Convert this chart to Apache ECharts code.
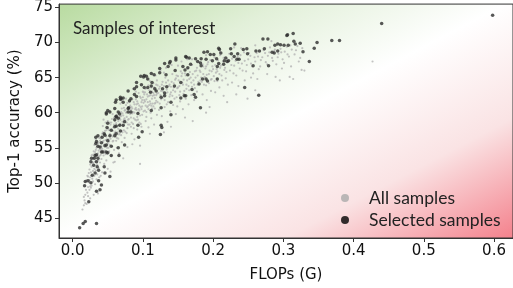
<!DOCTYPE html>
<html>
<head>
<meta charset="utf-8">
<script src="https://cdn.jsdelivr.net/npm/echarts@6/dist/echarts.min.js"></script>
<style>
html,body{margin:0;padding:0;background:#fff;}
#main{width:513px;height:288px;}
</style>
</head>
<body>
<div id="main"></div>
<script>
// ticks
var xTicks = [0, 0.1, 0.2, 0.3, 0.4, 0.5, 0.6];
var yTicks = [45, 50, 55, 60, 65, 70, 75];

// all samples (grey cloud), [FLOPs G, top-1 %]
var allSamples = [
[0.014,46.2],[0.016,46.8],[0.017,47.5],[0.018,48.3],[0.02,47.0],[0.019,49.0],[0.021,48.6],[0.022,49.4],[0.02,50.4],
[0.023,50.1],[0.024,49.0],[0.025,50.8],[0.026,51.5],[0.024,51.9],[0.027,52.3],[0.028,50.6],[0.029,52.9],[0.026,53.3],[0.028,54.0],[0.03,53.6],[0.029,51.7],[0.027,49.6],[0.03,48.3],[0.025,47.8],
[0.031,52.0],[0.032,54.4],[0.033,53.1],[0.034,55.0],[0.035,52.6],[0.036,54.2],[0.037,55.7],[0.038,53.8],[0.031,55.4],[0.033,56.2],[0.035,51.2],[0.039,54.8],[0.034,50.5],[0.037,52.1],[0.04,56.3],[0.032,49.8],[0.036,48.5],[0.038,50.8],
[0.041,55.2],[0.042,57.0],[0.043,54.6],[0.044,56.0],[0.045,55.5],[0.046,57.4],[0.047,54.1],[0.048,56.6],[0.049,55.0],[0.041,53.4],[0.043,58.1],[0.045,52.7],[0.047,58.6],[0.05,57.8],[0.042,51.5],[0.048,53.2],[0.044,59.0],
[0.051,56.2],[0.052,57.5],[0.053,55.4],[0.054,58.3],[0.055,56.8],[0.056,59.1],[0.057,55.9],[0.058,57.9],[0.059,56.9],[0.06,58.8],[0.052,54.5],[0.055,53.8],[0.057,59.8],[0.059,54.7],[0.053,60.2],[0.058,52.9],[0.054,51.6],
[0.061,57.3],[0.062,58.5],[0.063,56.4],[0.064,59.3],[0.065,57.7],[0.066,60.0],[0.067,58.2],[0.068,59.0],[0.069,56.8],[0.07,60.6],[0.071,58.7],[0.072,59.6],[0.073,57.5],[0.074,60.3],[0.075,58.9],[0.076,61.1],[0.077,59.4],[0.078,57.8],[0.079,60.8],[0.08,59.1],[0.063,55.0],[0.066,54.2],[0.07,55.8],[0.074,56.4],[0.068,61.3],[0.076,62.0],[0.072,53.5],[0.078,55.1],
[0.081,61.5],[0.082,59.8],[0.083,60.4],[0.084,58.6],[0.085,61.9],[0.086,60.1],[0.087,59.2],[0.088,61.2],[0.089,62.4],[0.09,60.7],[0.091,58.9],[0.092,61.6],[0.093,60.0],[0.094,62.8],[0.095,61.0],[0.096,59.6],[0.097,62.1],[0.098,60.5],[0.099,61.8],[0.1,63.0],[0.084,57.0],[0.088,56.2],[0.092,57.6],[0.096,55.3],[0.086,63.4],[0.098,58.0],[0.096,52.7],
[0.101,61.4],[0.102,62.6],[0.103,60.3],[0.104,63.4],[0.105,61.9],[0.106,60.8],[0.107,62.3],[0.108,63.9],[0.109,61.1],[0.11,62.9],[0.111,60.0],[0.112,63.6],[0.113,62.0],[0.114,61.3],[0.115,64.2],[0.116,62.5],[0.117,60.6],[0.118,63.2],[0.119,61.7],[0.12,64.6],[0.104,58.8],[0.108,57.9],[0.112,59.2],[0.116,58.3],[0.12,59.7],[0.106,64.8],[0.118,65.3],
[0.122,62.8],[0.124,63.7],[0.126,61.9],[0.128,64.4],[0.13,62.4],[0.132,65.0],[0.134,63.3],[0.136,61.5],[0.138,64.0],[0.14,62.9],[0.142,65.5],[0.144,63.6],[0.146,64.7],[0.148,62.2],[0.15,65.2],[0.123,60.4],[0.127,59.5],[0.131,60.8],[0.135,58.7],[0.139,60.2],[0.143,61.1],[0.147,59.8],[0.125,66.0],[0.133,66.4],[0.141,66.8],[0.149,60.9],[0.13,57.2],
[0.152,63.8],[0.154,65.9],[0.156,64.3],[0.158,62.7],[0.16,65.6],[0.162,64.0],[0.164,66.3],[0.166,63.2],[0.168,65.0],[0.17,66.8],[0.172,64.6],[0.174,63.5],[0.176,66.0],[0.178,65.3],[0.18,67.2],[0.153,61.6],[0.157,60.5],[0.161,62.0],[0.165,61.2],[0.169,62.5],[0.173,61.8],[0.177,63.0],[0.155,67.3],[0.163,67.6],[0.171,58.8],
[0.182,65.8],[0.184,64.4],[0.186,66.6],[0.188,65.1],[0.19,63.9],[0.192,66.9],[0.194,65.5],[0.196,67.5],[0.198,64.8],[0.2,66.2],[0.202,67.9],[0.204,65.7],[0.206,64.5],[0.208,66.9],[0.21,68.2],[0.212,65.3],[0.214,67.3],[0.216,66.1],[0.218,64.9],[0.22,67.7],[0.185,62.6],[0.191,61.8],[0.197,63.1],[0.203,62.9],[0.209,63.6],[0.215,62.4],[0.221,64.0],[0.195,60.8],
[0.223,68.4],[0.226,66.8],[0.229,65.6],[0.232,67.4],[0.235,68.0],[0.238,66.3],[0.241,67.0],[0.244,68.6],[0.247,65.9],[0.25,67.6],[0.253,68.1],[0.256,66.6],[0.259,67.9],[0.262,68.5],[0.265,66.2],[0.268,67.5],[0.227,64.3],[0.236,63.8],[0.245,64.6],[0.254,65.0],[0.263,64.8],[0.233,62.6],[0.249,62.0],[0.24,69.2],
[0.272,68.9],[0.275,67.2],[0.278,68.1],[0.281,69.3],[0.284,67.8],[0.287,68.8],[0.29,66.9],[0.293,68.4],[0.296,69.1],[0.299,67.6],[0.302,68.7],[0.305,69.4],[0.308,68.0],[0.312,69.0],[0.316,68.3],[0.32,69.5],[0.277,65.5],[0.289,65.1],[0.298,66.3],[0.311,66.6],[0.324,67.8],[0.33,66.0],[0.283,70.2],[0.314,64.8],
[0.427,67.3],[0.309,65.1],[0.326,66.1],
[0.016,48.0],[0.018,47.1],[0.019,50.2],[0.021,51.0],[0.022,48.1],[0.023,51.4],[0.024,50.4],[0.025,52.6],[0.026,49.3],[0.027,51.0],[0.028,52.8],[0.029,50.2],[0.03,54.5],[0.031,51.0],[0.032,53.0],[0.033,51.8],[0.034,53.7],[0.035,55.6],[0.036,53.2],[0.037,54.6],[0.038,56.4],[0.039,52.9],[0.04,54.0],
[0.041,56.6],[0.042,54.9],[0.043,55.8],[0.044,53.9],[0.045,56.9],[0.046,54.6],[0.047,56.1],[0.048,57.5],[0.049,54.1],[0.05,55.6],[0.051,57.7],[0.052,55.9],[0.053,57.0],[0.054,56.3],[0.055,58.6],[0.056,55.2],[0.057,57.4],[0.058,56.0],[0.059,58.3],[0.06,57.1],
[0.061,59.5],[0.062,56.0],[0.063,58.0],[0.064,57.2],[0.065,58.8],[0.066,56.9],[0.067,59.4],[0.068,58.4],[0.069,60.1],[0.07,57.4],[0.071,59.9],[0.072,58.1],[0.073,60.7],[0.074,59.2],[0.075,57.3],[0.076,60.0],[0.077,58.6],[0.078,61.4],[0.079,59.0],[0.08,60.4],
[0.081,58.3],[0.082,61.0],[0.083,59.3],[0.084,60.8],[0.085,59.9],[0.086,58.4],[0.087,61.5],[0.088,60.0],[0.089,59.0],[0.09,61.9],[0.091,60.4],[0.092,59.4],[0.093,61.3],[0.094,60.5],[0.095,58.6],[0.096,62.3],[0.097,60.8],[0.098,61.5],[0.099,59.7],[0.1,62.2],
[0.101,60.2],[0.102,61.8],[0.103,62.9],[0.104,61.0],[0.105,60.1],[0.106,62.6],[0.107,61.5],[0.108,60.5],[0.109,63.2],[0.11,61.6],[0.111,62.5],[0.112,61.0],[0.113,63.0],[0.114,62.4],[0.115,60.9],[0.116,63.6],[0.117,62.1],[0.118,61.4],[0.119,64.0],[0.12,62.7],
[0.121,61.5],[0.123,63.4],[0.125,62.5],[0.127,64.0],[0.129,63.0],[0.131,61.8],[0.133,64.3],[0.135,62.9],[0.137,63.8],[0.139,62.6],[0.141,64.4],[0.143,63.2],[0.145,62.0],[0.147,64.9],[0.149,63.5],[0.151,64.6],[0.153,63.0],[0.155,65.2],[0.157,64.0],[0.159,63.1],
[0.161,65.3],[0.163,64.6],[0.165,63.8],[0.167,65.8],[0.169,64.3],[0.171,65.5],[0.173,64.0],[0.175,65.0],[0.177,66.4],[0.179,64.4],[0.181,66.0],[0.183,65.0],[0.185,66.9],[0.187,64.0],[0.189,66.3],[0.191,65.4],[0.193,67.2],[0.195,66.0],[0.197,64.7],[0.199,66.6],
[0.201,65.2],[0.203,66.8],[0.205,66.2],[0.207,67.5],[0.209,65.5],[0.211,66.7],[0.213,64.6],[0.215,67.8],[0.217,66.4],[0.219,65.8],[0.221,67.2],[0.224,66.0],[0.227,67.7],[0.23,66.7],[0.233,65.3],[0.236,67.1],[0.239,68.2],[0.242,66.0],[0.245,67.4],[0.248,66.8],
[0.251,68.5],[0.254,67.0],[0.257,65.6],[0.26,67.3],[0.264,68.0],[0.267,66.6],[0.27,67.9],[0.274,68.5],[0.277,66.9],[0.28,68.6],[0.285,67.4],[0.288,69.0],[0.292,67.9],[0.297,68.6],[0.301,67.1],[0.306,68.3],[0.31,69.6],[0.318,68.9],[0.322,67.3],[0.327,69.2],
[0.06,53.0],[0.085,55.5],[0.11,57.0],[0.14,58.0],[0.16,59.3],[0.19,60.0],[0.22,61.5],[0.26,63.2],[0.295,64.6],[0.05,52.0],[0.04,51.0],
[0.05,58.8],[0.07,61.7],[0.09,63.0],[0.11,64.5],[0.13,65.7],[0.15,66.7],[0.17,67.6],[0.19,68.2],[0.21,68.7],[0.23,69.3],[0.26,69.6],
[0.022,50.9],[0.025,49.5],[0.027,53.9],[0.029,53.4],[0.031,54.1],[0.033,54.7],[0.035,53.9],[0.037,53.3],[0.039,56.0],[0.041,54.7],[0.043,57.2],[0.045,54.3],[0.047,55.2],[0.049,56.2],[0.051,55.0],[0.053,58.6],[0.055,57.6],[0.057,56.6],[0.059,59.3],[0.061,56.6],
[0.063,59.7],[0.065,56.3],[0.067,57.0],[0.069,59.5],[0.071,57.2],[0.073,59.0],[0.075,60.4],[0.077,57.1],[0.079,58.3],[0.081,60.0],[0.083,58.0],[0.085,60.6],[0.087,57.8],[0.089,60.5],[0.091,61.2],[0.093,59.0],[0.095,60.3],[0.097,58.4],[0.099,60.9],[0.101,62.9],
[0.103,61.6],[0.105,59.4],[0.107,60.9],[0.109,62.4],[0.111,61.3],[0.113,60.6],[0.115,62.8],[0.117,61.3],[0.119,62.5],[0.121,63.9],[0.124,61.3],[0.126,63.1],[0.128,62.1],[0.13,63.8],[0.132,62.7],[0.134,61.2],[0.136,64.6],[0.138,62.3],[0.14,63.7],[0.142,62.4],
[0.144,64.2],[0.146,63.0],[0.148,65.3],[0.15,63.6],[0.152,62.5],[0.156,65.6],[0.158,64.7],[0.162,63.4],[0.166,64.8],[0.17,63.7],[0.174,65.9],[0.178,64.0],[0.182,64.6],[0.186,65.5],[0.19,66.6],[0.194,64.2],[0.198,65.9],[0.202,64.5],[0.206,65.9],[0.21,66.4]
];

// selected samples (black)
var selectedSamples = [
[0.598,73.9],[0.440,72.7],[0.369,70.3],[0.380,70.3],[0.348,70.0],[0.344,69.2],[0.328,68.7],[0.337,67.3],[0.306,71.1],[0.314,71.3],[0.315,70.2],[0.324,69.9],[0.288,69.6],[0.296,69.7],[0.287,68.5],[0.279,66.7],[0.271,70.5],[0.278,70.5],[0.261,68.8],[0.266,68.8],[0.265,62.5],[0.245,63.6],[0.257,66.7],[0.249,68.4],[0.234,67.6],[0.235,68.4],[0.231,69.8],[0.225,69.1],[0.226,68.4],[0.220,67.3],[0.216,67.4],[0.209,69.0],[0.208,67.0],[0.206,64.8],[0.205,67.7],[0.196,68.3],[0.187,68.6],[0.192,64.5],[0.182,67.1],[0.183,67.7],[0.183,66.7],[0.175,67.7],[0.170,63.3],[0.173,62.6],[0.182,60.7],[0.162,67.9],[0.157,66.6],[0.160,66.1],[0.164,65.4],[0.154,62.1],[0.147,67.5],[0.146,66.0],[0.145,63.8],[0.140,59.7],[0.138,67.1],[0.131,67.0],[0.133,65.4],[0.134,63.7],[0.131,62.8],[0.126,60.7],[0.127,57.9],[0.125,56.9],[0.124,66.3],[0.116,65.4],[0.117,63.4],[0.113,64.3],[0.111,62.9],[0.107,63.6],[0.105,65.2],[0.101,65.1],[0.098,64.0],[0.091,63.7],[0.094,56.5],[0.091,62.3],[0.088,62.6],[0.099,57.3],[0.093,58.2],[0.081,61.7],[0.080,60.7],[0.083,60.1],[0.079,63.1],[0.072,62.1],[0.068,61.9],[0.062,59.5],[0.065,59.2],[0.062,58.1],[0.068,57.4],[0.062,57.0],[0.060,56.7],[0.066,53.9],[0.053,56.7],[0.050,56.0],[0.050,58.5],[0.048,60.0],[0.050,60.3],[0.049,57.9],[0.045,57.0],[0.042,56.5],[0.046,55.3],[0.048,54.4],[0.041,54.4],[0.039,55.1],[0.034,55.9],[0.033,56.5],[0.033,55.6],[0.032,53.9],[0.036,53.5],[0.031,53.5],[0.034,53.0],[0.027,53.5],[0.026,53.0],[0.030,52.5],[0.035,52.3],[0.037,51.8],[0.032,51.4],[0.028,51.1],[0.037,50.3],[0.045,52.3],[0.046,51.4],[0.053,50.9],[0.041,49.7],[0.034,48.8],[0.039,49.0],[0.026,50.0],[0.022,50.3],[0.017,49.6],[0.018,50.2],[0.023,47.3],[0.010,43.6],[0.015,44.2],[0.018,44.5],[0.034,44.2],
[0.068,62.2],[0.062,61.8],[0.072,61.5],[0.079,60.6],[0.060,60.6],[0.053,60.1],[0.048,59.8],[0.067,59.8],[0.060,59.0],[0.072,58.2],[0.060,58.0],[0.036,56.7],[0.046,56.8],[0.055,57.5],[0.041,55.7],[0.036,55.2],[0.048,55.4],[0.055,55.2],[0.065,55.0],[0.074,55.4],[0.043,54.4],[0.050,54.3],[0.034,54.0],[0.055,53.9],
[0.147,67.8],[0.139,67.3],[0.136,66.6],[0.161,68.0],[0.124,65.7],[0.112,65.6],[0.102,65.3],[0.107,64.8],[0.097,65.2],[0.091,64.3],[0.088,63.4],[0.102,63.6],[0.112,63.8],[0.119,63.1],[0.128,63.4],[0.131,62.4],[0.154,64.3],[0.159,62.4],[0.140,61.5],[0.126,62.2],[0.083,62.0],[0.069,62.0],[0.061,61.5],[0.065,60.1],[0.079,60.1],[0.093,59.9],[0.112,60.3],[0.062,59.4],[0.074,58.7],[0.067,58.2],[0.126,58.2],
[0.243,69.0],[0.248,69.1],[0.208,69.2],[0.211,68.5],[0.201,68.3],[0.192,68.7],[0.190,67.6],[0.199,67.4],[0.218,67.8],[0.222,67.4],[0.230,68.0],[0.237,67.6],[0.215,66.9],[0.206,66.6],[0.166,67.8],[0.168,66.9],[0.178,67.3],[0.164,66.4],[0.185,64.8],[0.190,64.8],[0.180,64.1],[0.175,62.2],[0.161,62.4],
[0.305,71.0],[0.317,69.8],[0.307,69.6],[0.301,69.6],[0.292,69.8],[0.273,69.1],[0.284,68.6],[0.292,68.8]
];

var dom = document.getElementById("main");
var myChart = echarts.init(dom, null, {renderer: 'canvas'});
var option = null;

// background: green (top-left) -> white -> red (bottom-right), bands along the anti-diagonal
var bg = new echarts.graphic.LinearGradient(0, 0, 0.428, 1.572, [
	{offset: 0, color: '#b8dba0'},
	{offset: 0.25, color: '#e2f0d9'},
	{offset: 0.5, color: '#ffffff'},
	{offset: 0.75, color: '#fae3e4'},
	{offset: 1, color: '#f4838e'}
]);

option = {
	animation: false,
	backgroundColor: '#ffffff',
	grid: {
		left: 57, top: 3, right: -2, bottom: 47,
		show: true,
		backgroundColor: bg,
		borderColor: '#333',
		borderWidth: 1
	},
	xAxis: {
		type: 'value',
		min: -0.0194, max: 0.627,
		name: 'FLOPs (G)',
		nameLocation: 'middle',
		nameGap: 30,
		nameTextStyle: {fontFamily: 'DejaVu Sans', fontSize: 15, color: '#111'},
		splitLine: {show: false},
		axisLine: {show: true, onZero: false, lineStyle: {color: '#333'}},
		axisTick: {show: true, length: 4, customValues: xTicks, lineStyle: {color: '#333'}},
		axisLabel: {
			customValues: xTicks, margin: 6,
			fontFamily: 'DejaVu Sans', fontSize: 15, color: '#111',
			formatter: function (v) { return v.toFixed(1); }
		}
	},
	yAxis: {
		type: 'value',
		min: 42.14, max: 75.48,
		name: 'Top-1 accuracy (%)',
		nameLocation: 'middle',
		nameGap: 36,
		nameTextStyle: {fontFamily: 'DejaVu Sans', fontSize: 15, color: '#111'},
		splitLine: {show: false},
		axisLine: {show: true, onZero: false, lineStyle: {color: '#333'}},
		axisTick: {show: true, length: 4, customValues: yTicks, lineStyle: {color: '#333'}},
		axisLabel: {
			customValues: yTicks, margin: 6,
			fontFamily: 'DejaVu Sans', fontSize: 15, color: '#111'
		}
	},
	legend: {
		orient: 'vertical',
		left: 336, top: 184,
		icon: 'circle',
		itemWidth: 38, itemHeight: 8,
		itemGap: 4,
		textStyle: {fontFamily: 'Lato', fontSize: 17.5, color: '#222'},
		data: [
			{name: 'All samples', itemStyle: {color: '#aaaaaa'}},
			{name: 'Selected samples', itemStyle: {color: '#000000'}}
		]
	},
	graphic: [{
		type: 'text', left: 73, top: 20,
		style: {text: 'Samples of interest', font: '17px Lato', fill: '#222'}
	}],
	series: [
		{
			name: 'All samples',
			type: 'scatter',
			symbolSize: 2.2,
			itemStyle: {color: '#b4b4b4'},
			data: allSamples
		},
		{
			name: 'Selected samples',
			type: 'scatter',
			symbolSize: 3.5,
			itemStyle: {color: '#2e2e2e'},
			data: selectedSamples
		}
	]
};

if (option && typeof option === "object") {
	myChart.setOption(option, true);
}
</script>
</body>
</html>
